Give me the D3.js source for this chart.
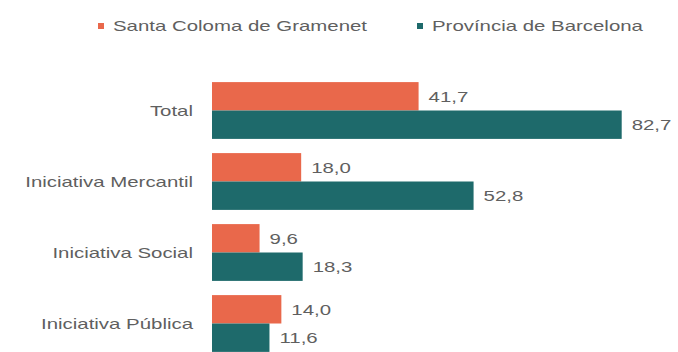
<!DOCTYPE html>
<html>
<head>
<meta charset="utf-8">
<script src="https://cdn.jsdelivr.net/npm/d3@7"></script>
<style>
  html, body { margin: 0; padding: 0; background: #ffffff; }
  svg { display: block; font-family: "Liberation Sans", Arial, sans-serif; }
</style>
</head>
<body>
<svg id="chart" width="678" height="352"></svg>
<script>
const categories = ["Total", "Iniciativa Mercantil", "Iniciativa Social", "Iniciativa Pública"];
const seriesNames = ["Santa Coloma de Gramenet", "Província de Barcelona"];
const santaColoma = [41.7, 18.0, 9.6, 14.0];
const provBarcelona = [82.7, 52.8, 18.3, 11.6];

const colors = ["#E9684B", "#1E6A6B"];
const textColor = "#5f5f5f";
const stretch = 1.36;

const svg = d3.select("#chart");
const x0 = 212;

const x = d3.scaleLinear().domain([0, 82.7]).range([x0, 621.7]);
const y = d3.scaleBand().domain(categories).range([75, 359]).paddingInner(0.2).paddingOuter(0.1);
const ySub = d3.scaleBand().domain(seriesNames).range([0, y.bandwidth()]);

function stretchText(sel) {
  sel.each(function() {
    const len = this.getComputedTextLength();
    d3.select(this).attr("textLength", len * stretch).attr("lengthAdjust", "spacingAndGlyphs");
  });
}

const series = [santaColoma, provBarcelona];
const data = [];
categories.forEach((c, i) => {
  seriesNames.forEach((s, j) => data.push({cat: c, ser: s, j, v: series[j][i]}));
});

// bars
svg.append("g").selectAll("rect").data(data).join("rect")
  .attr("x", x(0))
  .attr("y", d => y(d.cat) + ySub(d.ser))
  .attr("width", d => x(d.v) - x(0))
  .attr("height", ySub.bandwidth())
  .attr("fill", d => colors[d.j]);

// value labels
const fmt = v => d3.format(".1f")(v).replace(".", ",");
svg.append("g").selectAll("text").data(data).join("text")
  .attr("x", d => x(d.v) + 10)
  .attr("y", d => y(d.cat) + ySub(d.ser) + ySub.bandwidth() / 2)
  .attr("dy", "0.35em")
  .attr("font-size", 15)
  .attr("fill", textColor)
  .text(d => fmt(d.v))
  .call(stretchText);

// category axis
const yAxis = d3.axisLeft(y).tickSize(0).tickPadding(0);
const ax = svg.append("g").attr("transform", `translate(${x0 - 19},0)`).call(yAxis);
ax.select(".domain").remove();
ax.selectAll("text")
  .attr("font-size", 15)
  .attr("font-family", "Liberation Sans, Arial, sans-serif")
  .attr("fill", textColor)
  .attr("dy", "0.35em")
  .call(stretchText);

// legend
const legendX = [98, 417];
const lg = svg.append("g").selectAll("g").data(seriesNames).join("g")
  .attr("transform", (d, i) => `translate(${legendX[i]},26)`);
lg.append("rect").attr("x", 0).attr("y", -3).attr("width", 6).attr("height", 6)
  .attr("fill", (d, i) => colors[i]);
lg.append("text").attr("x", 15).attr("dy", "0.35em")
  .attr("font-size", 15).attr("fill", textColor)
  .text(d => d)
  .call(stretchText);
</script>
</body>
</html>
